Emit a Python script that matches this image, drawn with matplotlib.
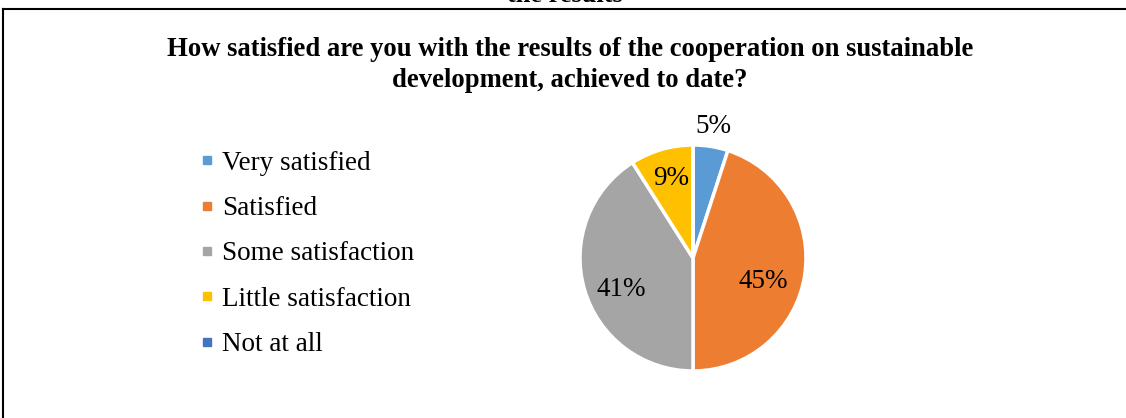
import matplotlib
matplotlib.use("Agg")
import matplotlib.pyplot as plt
from matplotlib.lines import Line2D
import numpy as np

categories = ["Very satisfied", "Satisfied", "Some satisfaction", "Little satisfaction", "Not at all"]
values = [5, 45, 41, 9, 0]
colors = ["#5B9BD5", "#ED7D31", "#A5A5A5", "#FFC000", "#4472C4"]
# label placement (radius fraction, angle shift in degrees)
label_dist = [1.18, 0.66, 0.69, 0.73, 0.7]
label_shift = [0.4, -9.7, 7.4, -0.6, 0]

title = "How satisfied are you with the results of the cooperation on sustainable\ndevelopment, achieved to date?"
cut_text = "the results"

plt.rcParams['font.family'] = ['Liberation Serif', 'DejaVu Serif']

W, H = 1126, 418
fig = plt.figure(figsize=(W / 100, H / 100), dpi=100)

# border (left and top only)
fig.add_artist(Line2D([3 / W, 3 / W], [0, 1 - 9 / H], transform=fig.transFigure, color="black", lw=1.5,
                      solid_capstyle="projecting"))
fig.add_artist(Line2D([3 / W, 1], [1 - 9 / H, 1 - 9 / H], transform=fig.transFigure, color="black", lw=1.5,
                      solid_capstyle="projecting"))

# cut-off text at very top
fig.text(565 / W, 1 - 1.5 / H, cut_text, ha="center", va="baseline", fontsize=19, fontweight="bold")

fig.text(570 / W, 1 - 65 / H, title, ha="center", va="center", fontsize=19.2, fontweight="bold",
         linespacing=1.36)

# pie axes
cx, cy, r = 693, 258, 113
ax = fig.add_axes([(cx - r) / W, (H - cy - r) / H, 2 * r / W, 2 * r / H])
wedges, _ = ax.pie(values, colors=colors, startangle=90, counterclock=False,
                   wedgeprops=dict(edgecolor="white", linewidth=2.5), radius=1.0)
ax.set_xlim(-1, 1)
ax.set_ylim(-1, 1)
ax.set_aspect("equal")
ax.axis("off")

total = sum(values)
for w, v, d, s in zip(wedges, values, label_dist, label_shift):
    if v == 0:
        continue
    ang = np.deg2rad((w.theta1 + w.theta2) / 2 + s)
    ax.text(d * np.cos(ang), d * np.sin(ang), f"{round(100 * v / total)}%",
            ha="center", va="center", fontsize=19.5, clip_on=False)

handles = [Line2D([], [], marker="s", linestyle="none", markersize=6, markerfacecolor=c,
                  markeredgecolor=c) for c in colors]
fig.legend(handles, categories, loc="upper left", bbox_to_anchor=(188 / W, 1 - 140 / H),
           frameon=False, fontsize=19.5, handlelength=0.6, handletextpad=0.25, labelspacing=0.75,
           borderaxespad=0)

fig.savefig("out.png", dpi=100)
